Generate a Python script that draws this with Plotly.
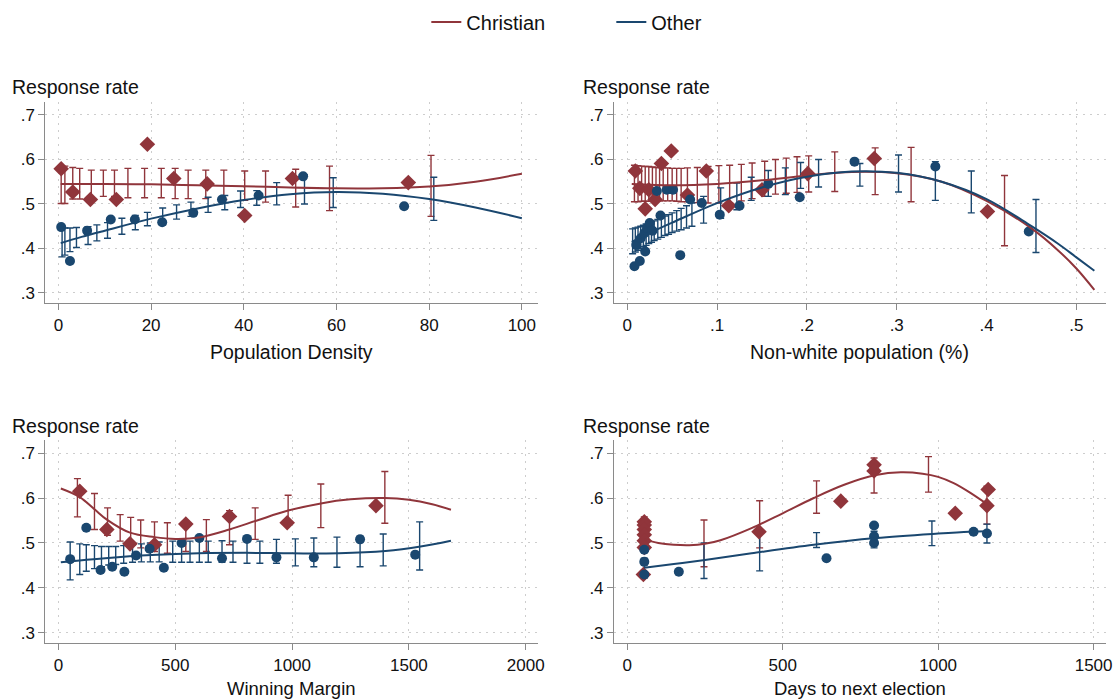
import plotly.graph_objects as go

W, H = 1119, 699
RED = "#90353b"
BLUE = "#1a476f"
FONT = "Liberation Sans, Arial, Helvetica, sans-serif"

# ---------------- Panel 1: Population Density ----------------
p1_chr_x = [0.6, 3.1, 6.9, 12.5, 19.2, 24.9, 32.1, 40.2, 50.5, 75.5]
p1_chr_y = [0.579, 0.527, 0.510, 0.510, 0.634, 0.557, 0.545, 0.474, 0.557, 0.548]
p1_oth_x = [0.6, 2.5, 6.2, 11.3, 16.5, 22.4, 29.1, 35.3, 43.2, 52.8, 74.6]
p1_oth_y = [0.448, 0.372, 0.440, 0.465, 0.465, 0.459, 0.480, 0.510, 0.519, 0.562, 0.495]
p1_chr_fit_x = [0.5, 10, 20, 30, 40, 50, 60, 70, 80, 90, 100]
p1_chr_fit_y = [0.545, 0.545, 0.544, 0.542, 0.540, 0.537, 0.535, 0.535, 0.539, 0.550, 0.568]
p1_oth_fit_x = [0.5, 5, 10, 20, 30, 40, 50, 60, 70, 80, 90, 100]
p1_oth_fit_y = [0.412, 0.426, 0.440, 0.467, 0.490, 0.509, 0.522, 0.527, 0.523, 0.511, 0.492, 0.468]
p1_chr_ci_x = [0.6, 1.4, 3.1, 4.6, 7.1, 9.7, 12.1, 15.0, 18.6, 22.2, 25.2, 28.0, 31.8, 35.7, 40.2, 44.7, 51.2, 58.5, 80.4]
p1_chr_ci_lo = [0.501, 0.501, 0.511, 0.511, 0.512, 0.517, 0.517, 0.514, 0.514, 0.514, 0.512, 0.512, 0.512, 0.510, 0.508, 0.504, 0.493, 0.485, 0.472]
p1_chr_ci_hi = [0.585, 0.585, 0.582, 0.580, 0.576, 0.576, 0.576, 0.580, 0.580, 0.580, 0.580, 0.576, 0.576, 0.576, 0.574, 0.574, 0.578, 0.585, 0.609]
p1_oth_ci_x = [0.8, 1.4, 2.5, 3.9, 6.4, 8.3, 10.6, 13.7, 16.6, 19.2, 22.5, 25.5, 28.6, 32.3, 35.9, 39.3, 42.8, 47.1, 53.1, 59.3, 81.0]
p1_oth_ci_lo = [0.381, 0.385, 0.393, 0.402, 0.409, 0.417, 0.423, 0.432, 0.442, 0.451, 0.453, 0.466, 0.472, 0.481, 0.487, 0.492, 0.497, 0.498, 0.500, 0.492, 0.463]
p1_oth_ci_hi = [0.449, 0.446, 0.446, 0.447, 0.449, 0.453, 0.458, 0.468, 0.474, 0.481, 0.491, 0.498, 0.504, 0.515, 0.519, 0.529, 0.530, 0.548, 0.565, 0.559, 0.560]

# ---------------- Panel 2: Non-white population ----------------
p2_chr_x = [0.009, 0.014, 0.020, 0.024, 0.031, 0.038, 0.049, 0.067, 0.088, 0.113, 0.150, 0.201, 0.275, 0.401]
p2_chr_y = [0.574, 0.535, 0.489, 0.532, 0.510, 0.591, 0.619, 0.520, 0.574, 0.496, 0.532, 0.568, 0.602, 0.483]
p2_oth_x = [0.008, 0.010, 0.014, 0.015, 0.019, 0.020, 0.022, 0.025, 0.028, 0.033, 0.037, 0.044, 0.051, 0.059, 0.070, 0.083, 0.103, 0.125, 0.157, 0.192, 0.253, 0.343, 0.447]
p2_oth_y = [0.360, 0.408, 0.372, 0.423, 0.434, 0.393, 0.446, 0.457, 0.440, 0.529, 0.474, 0.532, 0.532, 0.385, 0.510, 0.502, 0.476, 0.496, 0.545, 0.515, 0.595, 0.584, 0.438]
p2_chr_fit_x = [0.005, 0.05, 0.1, 0.15, 0.2, 0.25, 0.3, 0.35, 0.4, 0.45, 0.48, 0.5, 0.52]
p2_chr_fit_y = [0.545, 0.542, 0.545, 0.553, 0.564, 0.572, 0.569, 0.550, 0.507, 0.445, 0.395, 0.355, 0.307]
p2_oth_fit_x = [0.005, 0.025, 0.05, 0.1, 0.15, 0.2, 0.25, 0.3, 0.35, 0.4, 0.45, 0.48, 0.5, 0.52]
p2_oth_fit_y = [0.415, 0.435, 0.458, 0.502, 0.537, 0.561, 0.573, 0.570, 0.550, 0.511, 0.450, 0.410, 0.380, 0.350]
p2_chr_ci_x = [0.008, 0.012, 0.016, 0.020, 0.024, 0.028, 0.032, 0.036, 0.040, 0.045, 0.050, 0.055, 0.060, 0.067, 0.078, 0.090, 0.102, 0.114, 0.127, 0.139, 0.153, 0.165, 0.177, 0.189, 0.202, 0.231, 0.276, 0.316, 0.420]
p2_chr_ci_lo = [0.505, 0.505, 0.506, 0.506, 0.506, 0.507, 0.507, 0.507, 0.507, 0.507, 0.507, 0.506, 0.505, 0.505, 0.503, 0.502, 0.502, 0.503, 0.507, 0.512, 0.517, 0.522, 0.524, 0.526, 0.527, 0.528, 0.521, 0.505, 0.406]
p2_chr_ci_hi = [0.587, 0.586, 0.585, 0.584, 0.584, 0.583, 0.582, 0.582, 0.581, 0.581, 0.580, 0.580, 0.580, 0.581, 0.582, 0.584, 0.586, 0.587, 0.589, 0.592, 0.596, 0.600, 0.603, 0.606, 0.608, 0.617, 0.626, 0.627, 0.564]
p2_oth_ci_x = [0.006, 0.009, 0.012, 0.015, 0.018, 0.021, 0.024, 0.027, 0.030, 0.034, 0.038, 0.042, 0.046, 0.050, 0.055, 0.060, 0.066, 0.072, 0.085, 0.104, 0.122, 0.138, 0.157, 0.176, 0.193, 0.213, 0.259, 0.302, 0.343, 0.383, 0.455]
p2_oth_ci_lo = [0.388, 0.392, 0.396, 0.400, 0.404, 0.407, 0.411, 0.414, 0.418, 0.421, 0.425, 0.429, 0.432, 0.436, 0.439, 0.442, 0.446, 0.450, 0.457, 0.468, 0.487, 0.508, 0.517, 0.521, 0.535, 0.538, 0.540, 0.527, 0.508, 0.480, 0.391]
p2_oth_ci_hi = [0.444, 0.446, 0.448, 0.450, 0.452, 0.455, 0.457, 0.460, 0.462, 0.465, 0.469, 0.473, 0.476, 0.480, 0.485, 0.490, 0.496, 0.502, 0.517, 0.536, 0.547, 0.560, 0.575, 0.581, 0.593, 0.600, 0.591, 0.610, 0.595, 0.574, 0.510]

# ---------------- Panel 3: Winning Margin ----------------
p3_chr_x = [91, 207, 306, 411, 545, 732, 979, 1359]
p3_chr_y = [0.615, 0.530, 0.498, 0.496, 0.542, 0.559, 0.545, 0.583]
p3_oth_x = [50, 119, 180, 230, 282, 332, 390, 451, 527, 603, 700, 807, 933, 1093, 1291, 1527]
p3_oth_y = [0.464, 0.534, 0.440, 0.447, 0.436, 0.472, 0.487, 0.445, 0.500, 0.511, 0.466, 0.509, 0.468, 0.468, 0.508, 0.474]
p3_chr_fit_x = [10, 91, 154, 207, 306, 411, 500, 600, 732, 850, 983, 1123, 1250, 1397, 1500, 1600, 1680]
p3_chr_fit_y = [0.621, 0.602, 0.575, 0.552, 0.523, 0.513, 0.509, 0.512, 0.530, 0.550, 0.572, 0.588, 0.597, 0.600, 0.596, 0.586, 0.574]
p3_oth_fit_x = [10, 200, 400, 600, 800, 1000, 1200, 1400, 1550, 1680]
p3_oth_fit_y = [0.457, 0.466, 0.473, 0.477, 0.478, 0.477, 0.477, 0.482, 0.492, 0.505]
p3_chr_ci_x = [81, 154, 210, 264, 309, 352, 411, 466, 545, 633, 732, 842, 983, 1123, 1397]
p3_chr_ci_lo = [0.558, 0.530, 0.517, 0.504, 0.496, 0.489, 0.481, 0.477, 0.481, 0.481, 0.496, 0.508, 0.542, 0.534, 0.544]
p3_chr_ci_hi = [0.643, 0.610, 0.578, 0.563, 0.557, 0.551, 0.547, 0.545, 0.549, 0.552, 0.572, 0.578, 0.606, 0.631, 0.659]
p3_oth_ci_x = [50, 91, 119, 154, 184, 215, 245, 279, 317, 355, 393, 431, 489, 527, 563, 603, 641, 700, 747, 807, 862, 933, 1014, 1093, 1192, 1291, 1390, 1546]
p3_oth_ci_lo = [0.418, 0.430, 0.437, 0.443, 0.447, 0.451, 0.452, 0.455, 0.457, 0.458, 0.458, 0.458, 0.457, 0.457, 0.457, 0.457, 0.457, 0.457, 0.457, 0.455, 0.455, 0.455, 0.449, 0.447, 0.446, 0.447, 0.449, 0.440]
p3_oth_ci_hi = [0.502, 0.498, 0.496, 0.494, 0.492, 0.492, 0.492, 0.494, 0.496, 0.498, 0.500, 0.502, 0.504, 0.504, 0.504, 0.504, 0.504, 0.505, 0.504, 0.504, 0.504, 0.508, 0.509, 0.511, 0.513, 0.515, 0.520, 0.547]

# ---------------- Panel 4: Days to next election ----------------
p4_chr_x = [52, 55, 55, 55, 55, 55, 55, 424, 687, 794, 794, 1055, 1157, 1161]
p4_chr_y = [0.430, 0.547, 0.540, 0.530, 0.518, 0.505, 0.490, 0.525, 0.593, 0.674, 0.660, 0.566, 0.583, 0.619]
p4_oth_x = [55, 55, 55, 166, 641, 794, 794, 794, 1114, 1157]
p4_oth_y = [0.430, 0.458, 0.485, 0.436, 0.466, 0.539, 0.515, 0.500, 0.525, 0.521]
p4_chr_fit_x = [55, 100, 150, 200, 250, 300, 400, 500, 600, 700, 800, 880, 950, 1000, 1050, 1100, 1160]
p4_chr_fit_y = [0.508, 0.500, 0.496, 0.495, 0.498, 0.506, 0.533, 0.566, 0.600, 0.630, 0.651, 0.657, 0.654, 0.647, 0.633, 0.613, 0.585]
p4_oth_fit_x = [55, 150, 250, 400, 600, 800, 1000, 1100, 1160]
p4_oth_fit_y = [0.445, 0.453, 0.462, 0.477, 0.496, 0.511, 0.521, 0.525, 0.526]
p4_chr_ci_x = [55, 247, 426, 609, 794, 969, 1157]
p4_chr_ci_lo = [0.481, 0.447, 0.489, 0.566, 0.611, 0.613, 0.542]
p4_chr_ci_hi = [0.558, 0.551, 0.594, 0.638, 0.689, 0.692, 0.626]
p4_oth_ci_x = [55, 247, 426, 609, 794, 980, 1157]
p4_oth_ci_lo = [0.422, 0.421, 0.438, 0.490, 0.489, 0.494, 0.500]
p4_oth_ci_hi = [0.466, 0.500, 0.530, 0.523, 0.526, 0.549, 0.542]

# ---------------- Axis text ----------------
y_tickvals = [0.3, 0.4, 0.5, 0.6, 0.7]
y_ticktext = [".3", ".4", ".5", ".6", ".7"]
p1_xticks = [0, 20, 40, 60, 80, 100]
p2_xticks = [0, 0.1, 0.2, 0.3, 0.4, 0.5]
p2_xticktext = ["0", ".1", ".2", ".3", ".4", ".5"]
p3_xticks = [0, 500, 1000, 1500, 2000]
p4_xticks = [0, 500, 1000, 1500]
x_titles = ["Population Density", "Non-white population (%)", "Winning Margin", "Days to next election"]
y_title = "Response rate"

panels = [
    dict(chr=(p1_chr_x, p1_chr_y), oth=(p1_oth_x, p1_oth_y),
         chr_fit=(p1_chr_fit_x, p1_chr_fit_y), oth_fit=(p1_oth_fit_x, p1_oth_fit_y),
         chr_ci=(p1_chr_ci_x, p1_chr_ci_lo, p1_chr_ci_hi), oth_ci=(p1_oth_ci_x, p1_oth_ci_lo, p1_oth_ci_hi)),
    dict(chr=(p2_chr_x, p2_chr_y), oth=(p2_oth_x, p2_oth_y),
         chr_fit=(p2_chr_fit_x, p2_chr_fit_y), oth_fit=(p2_oth_fit_x, p2_oth_fit_y),
         chr_ci=(p2_chr_ci_x, p2_chr_ci_lo, p2_chr_ci_hi), oth_ci=(p2_oth_ci_x, p2_oth_ci_lo, p2_oth_ci_hi)),
    dict(chr=(p3_chr_x, p3_chr_y), oth=(p3_oth_x, p3_oth_y),
         chr_fit=(p3_chr_fit_x, p3_chr_fit_y), oth_fit=(p3_oth_fit_x, p3_oth_fit_y),
         chr_ci=(p3_chr_ci_x, p3_chr_ci_lo, p3_chr_ci_hi), oth_ci=(p3_oth_ci_x, p3_oth_ci_lo, p3_oth_ci_hi)),
    dict(chr=(p4_chr_x, p4_chr_y), oth=(p4_oth_x, p4_oth_y),
         chr_fit=(p4_chr_fit_x, p4_chr_fit_y), oth_fit=(p4_oth_fit_x, p4_oth_fit_y),
         chr_ci=(p4_chr_ci_x, p4_chr_ci_lo, p4_chr_ci_hi), oth_ci=(p4_oth_ci_x, p4_oth_ci_lo, p4_oth_ci_hi)),
]

fig = go.Figure()


def ci_trace(x, lo, hi, color, xa, ya):
    mid = [(a + b) / 2 for a, b in zip(lo, hi)]
    return go.Scatter(
        x=x, y=mid, mode="markers", xaxis=xa, yaxis=ya,
        marker=dict(size=2, opacity=0),
        error_y=dict(type="data", symmetric=False,
                     array=[h - m for h, m in zip(hi, mid)],
                     arrayminus=[m - l for m, l in zip(mid, lo)],
                     color=color, thickness=1.4, width=3.5),
        showlegend=False, hoverinfo="skip")


for i, p in enumerate(panels):
    xa = "x" if i == 0 else f"x{i+1}"
    ya = "y" if i == 0 else f"y{i+1}"
    fig.add_trace(ci_trace(*p["chr_ci"], RED, xa, ya))
    fig.add_trace(ci_trace(*p["oth_ci"], BLUE, xa, ya))
    fig.add_trace(go.Scatter(x=p["chr"][0], y=p["chr"][1], mode="markers", xaxis=xa, yaxis=ya,
                             marker=dict(symbol="diamond", size=12, color=RED),
                             showlegend=False))
    fig.add_trace(go.Scatter(x=p["oth"][0], y=p["oth"][1], mode="markers", xaxis=xa, yaxis=ya,
                             marker=dict(symbol="circle", size=10, color=BLUE),
                             showlegend=False))
    fig.add_trace(go.Scatter(x=p["chr_fit"][0], y=p["chr_fit"][1], mode="lines", xaxis=xa, yaxis=ya,
                             line=dict(color=RED, width=2, shape="spline", smoothing=1.0),
                             name="Christian", legendgroup="c", showlegend=(i == 0)))
    fig.add_trace(go.Scatter(x=p["oth_fit"][0], y=p["oth_fit"][1], mode="lines", xaxis=xa, yaxis=ya,
                             line=dict(color=BLUE, width=2, shape="spline", smoothing=1.0),
                             name="Other", legendgroup="o", showlegend=(i == 0)))

# pixel-based layout
left_dom = [45.7 / W, 541 / W]
right_dom = [618 / W, 1113 / W]
top_dom = [1 - 303 / H, 1 - 102 / H]
bot_dom = [1 - 643 / H, 1 - 440 / H]

axis_common = dict(showline=True, linecolor="#8a8a8a", linewidth=1.3, ticks="outside", ticklen=6,
                   tickcolor="#8a8a8a", tickwidth=1.2, showgrid=True, gridcolor="#cdcdcd",
                   griddash="2px,5px", gridwidth=1.2, zeroline=False, mirror=False,
                   tickfont=dict(family=FONT, size=17, color="#111111"))

xranges = [[-2.8, 103.4], [-0.0146, 0.533], [-56, 2051], [-42, 1540]]
xtickv = [p1_xticks, p2_xticks, p3_xticks, p4_xticks]
xtickt = [[str(v) for v in p1_xticks], p2_xticktext, [str(v) for v in p3_xticks], [str(v) for v in p4_xticks]]
xdoms = [left_dom, right_dom, left_dom, right_dom]
ydoms = [top_dom, top_dom, bot_dom, bot_dom]

layout_axes = {}
for i in range(4):
    xn = "xaxis" if i == 0 else f"xaxis{i+1}"
    yn = "yaxis" if i == 0 else f"yaxis{i+1}"
    ya = "y" if i == 0 else f"y{i+1}"
    xa = "x" if i == 0 else f"x{i+1}"
    layout_axes[xn] = dict(axis_common, domain=xdoms[i], range=xranges[i], anchor=ya,
                           tickvals=xtickv[i], ticktext=xtickt[i], ticklabelstandoff=0)
    layout_axes[yn] = dict(axis_common, domain=ydoms[i], range=[0.2775, 0.729], anchor=xa,
                           tickvals=y_tickvals, ticktext=y_ticktext)

annotations = []
title_pos = [(10, 87), (585, 87), (10, 426), (585, 426)]
xtitle_pos = [(293, 352), (865, 352), (293, 688), (865, 688)]
xtitle_size = [19.5, 19.5, 18.5, 18.5]
for i in range(4):
    tx, ty = title_pos[i]
    annotations.append(dict(text=y_title, x=tx / W, y=1 - ty / H, xref="paper", yref="paper",
                            xanchor="left", yanchor="middle", showarrow=False,
                            font=dict(family=FONT, size=19.5, color="#111111")))
    ax, ay = xtitle_pos[i]
    annotations.append(dict(text=x_titles[i], x=ax / W, y=1 - ay / H, xref="paper", yref="paper",
                            xanchor="center", yanchor="middle", showarrow=False,
                            font=dict(family=FONT, size=xtitle_size[i], color="#111111")))

fig.update_layout(
    width=W, height=H,
    margin=dict(l=0, r=0, t=0, b=0),
    paper_bgcolor="white", plot_bgcolor="white",
    font=dict(family=FONT, size=17, color="#111111"),
    showlegend=True,
    legend=dict(orientation="h", x=429 / W, xanchor="left", y=1 - 22 / H, yanchor="middle",
                font=dict(family=FONT, size=20, color="#111111"), entrywidth=140,
                bgcolor="rgba(0,0,0,0)"),
    annotations=annotations,
    **layout_axes,
)

fig.write_html("out.html", config={"displayModeBar": False},
               post_script="document.body.style.margin='0';document.body.style.overflow='hidden';")
